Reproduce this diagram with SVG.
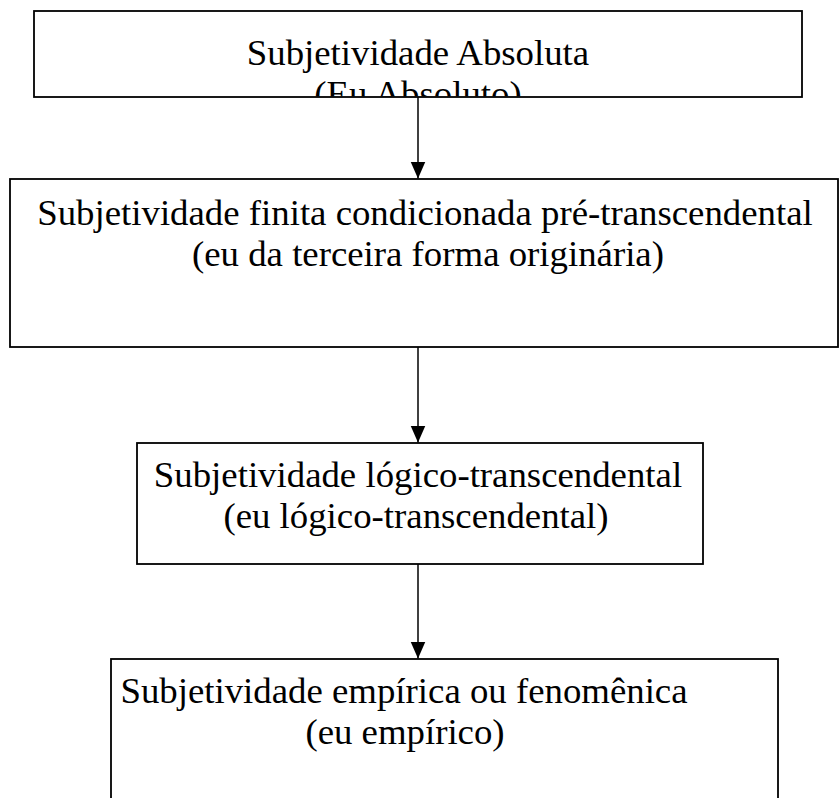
<svg xmlns="http://www.w3.org/2000/svg" width="839" height="798" viewBox="0 0 839 798">
<style>
  .box { fill: #ffffff; stroke: #000000; stroke-width: 1.8; }
  .lbl { font-family: "Liberation Serif", "Times New Roman", serif; font-size: 36.8px; fill: #000000; text-anchor: middle; }
  .conn { stroke: #000000; stroke-width: 1.5; fill: none; }
</style>
<defs>
  <marker id="arrow" markerUnits="userSpaceOnUse" markerWidth="18" markerHeight="16" refX="17" refY="7.5" orient="auto">
    <path d="M0,0 L17,7.5 L0,15 Z" fill="#000000"/>
  </marker>
  <clipPath id="clip1"><rect x="35" y="12" width="766" height="84.5"/></clipPath>
</defs>
<rect width="839" height="798" fill="#ffffff"/>
<g id="connectors">
  <line class="conn" x1="418" y1="97" x2="418" y2="178.5" marker-end="url(#arrow)"/>
  <line class="conn" x1="418" y1="347" x2="418" y2="442.5" marker-end="url(#arrow)"/>
  <line class="conn" x1="418" y1="564" x2="418" y2="658.5" marker-end="url(#arrow)"/>
</g>
<g id="node1">
  <rect class="box" x="34" y="11" width="768" height="86"/>
  <g clip-path="url(#clip1)">
    <text class="lbl" x="418" y="65">Subjetividade Absoluta</text>
    <text class="lbl" x="418" y="106">(Eu Absoluto)</text>
  </g>
</g>
<g id="node2">
  <rect class="box" x="10" y="179" width="828" height="168"/>
  <text class="lbl" x="425" y="225">Subjetividade finita condicionada pré-transcendental</text>
  <text class="lbl" x="428" y="266">(eu da terceira forma originária)</text>
</g>
<g id="node3">
  <rect class="box" x="137" y="443" width="566" height="121"/>
  <text class="lbl" x="418" y="487">Subjetividade lógico-transcendental</text>
  <text class="lbl" x="416" y="528">(eu lógico-transcendental)</text>
</g>
<g id="node4">
  <rect class="box" x="111" y="659" width="667" height="160"/>
  <text class="lbl" x="404" y="703">Subjetividade empírica ou fenomênica</text>
  <text class="lbl" x="405" y="744">(eu empírico)</text>
</g>
</svg>
